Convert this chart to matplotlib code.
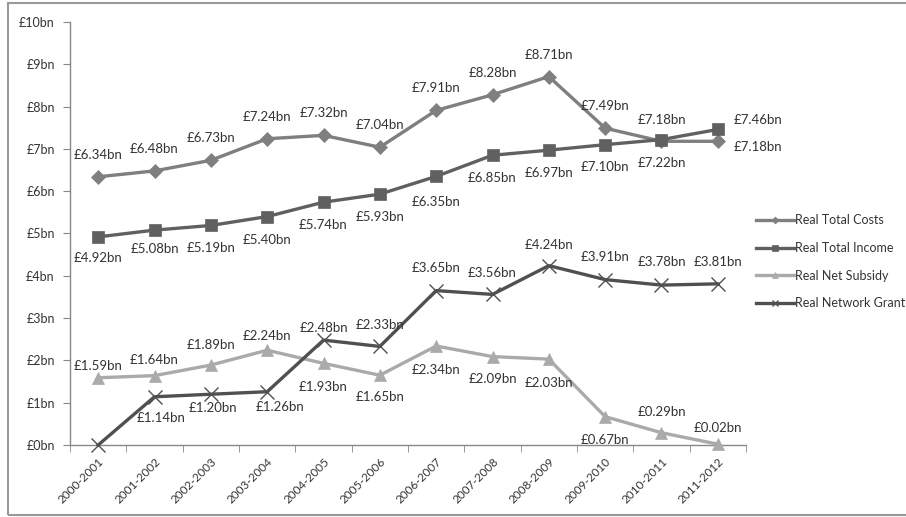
import matplotlib
matplotlib.use("Agg")
from matplotlib import pyplot as plt
from matplotlib.patches import Rectangle

plt.rcParams["font.family"] = ["Lato", "DejaVu Sans"]

years = ["2000-2001", "2001-2002", "2002-2003", "2003-2004", "2004-2005", "2005-2006",
         "2006-2007", "2007-2008", "2008-2009", "2009-2010", "2010-2011", "2011-2012"]

total_costs = [6.34, 6.48, 6.73, 7.24, 7.32, 7.04, 7.91, 8.28, 8.71, 7.49, 7.18, 7.18]
total_income = [4.92, 5.08, 5.19, 5.40, 5.74, 5.93, 6.35, 6.85, 6.97, 7.10, 7.22, 7.46]
net_subsidy = [1.59, 1.64, 1.89, 2.24, 1.93, 1.65, 2.34, 2.09, 2.03, 0.67, 0.29, 0.02]
network_grant = [0.00, 1.14, 1.20, 1.26, 2.48, 2.33, 3.65, 3.56, 4.24, 3.91, 3.78, 3.81]

# label offsets in pixels (dx, dy) relative to each point, None = no label
costs_off = [(0, 22)] * 10 + [(0, 21), (40, -6)]
income_off = [(0, -21), (0, -19), (0, -23), (0, -23), (0, -23), (0, -23),
              (0, -26), (0, -23), (0, -23), (0, -22), (0, -23), (40, 9)]
subsidy_off = [(0, 12), (0, 16), (0, 20), (0, 14), (0, -24), (0, -22),
               (0, -24), (0, -22), (0, -24), (0, -23), (0, 21), (0, 16)]
grant_off = [None, (7, -21), (2, -14), (13, -15), (0, 12), (0, 21),
             (0, 23), (0, 21), (0, 21), (0, 23), (0, 23), (0, 22)]

fig = plt.figure(figsize=(9.06, 5.17), dpi=100)
ax = fig.add_axes([70 / 906, 1 - 445 / 517, 676 / 906, 423 / 517])

x = list(range(len(years)))

series = [
    ("Real Total Costs", total_costs, "#7f7f7f", "D", 7, costs_off),
    ("Real Total Income", total_income, "#606060", "s", 9, income_off),
    ("Real Net Subsidy", net_subsidy, "#aaaaaa", "^", 9, subsidy_off),
    ("Real Network Grant", network_grant, "#505050", "x", 10, grant_off),
]

for name, vals, col, mk, ms, offs in series:
    ax.plot(x, vals, color=col, lw=2.4, marker=mk, markersize=ms,
            markeredgewidth=1.0 if mk == "x" else 0.5, markeredgecolor=col,
            label=name, clip_on=False, zorder=3)
    for xi, v, off in zip(x, vals, offs):
        if off is None:
            continue
        ax.annotate(f"£{v:.2f}bn", (xi, v), xytext=off, textcoords="offset pixels",
                    ha="center", va="center", fontsize=9.5, color="#333333")

ax.set_xlim(-0.5, 11.5)
ax.set_ylim(0, 10)
ax.set_yticks(range(0, 11))
ax.set_yticklabels([f"£{i}bn" for i in range(0, 11)], fontsize=9, color="#333333")
ax.set_xticks(x)
ax.set_xticklabels(years, rotation=45, ha="right", rotation_mode="anchor",
                   fontsize=8.5, color="#333333")
ax.set_xticks([i - 0.5 for i in range(len(years) + 1)], minor=True)
ax.tick_params(axis="x", which="major", length=0, pad=8)
ax.tick_params(axis="x", which="minor", length=5, color="#888888")
ax.tick_params(axis="y", length=5, color="#888888", pad=6)

for s in ["top", "right"]:
    ax.spines[s].set_visible(False)
for s in ["left", "bottom"]:
    ax.spines[s].set_color("#888888")
    ax.spines[s].set_linewidth(1.0)

leg = fig.legend(loc="upper left", bbox_to_anchor=(745 / 906, 1 - 203 / 517),
                 frameon=False, fontsize=9, handlelength=3.0, handletextpad=0.1,
                 labelspacing=1.25, markerscale=0.5)
for t in leg.get_texts():
    t.set_color("#333333")

fig.patches.append(Rectangle((8 / 906, 2 / 517), 1.2, 1 - 5 / 517,
                             transform=fig.transFigure, fill=False,
                             edgecolor="#999999", lw=1.5))

fig.savefig("out.png", dpi=100)
